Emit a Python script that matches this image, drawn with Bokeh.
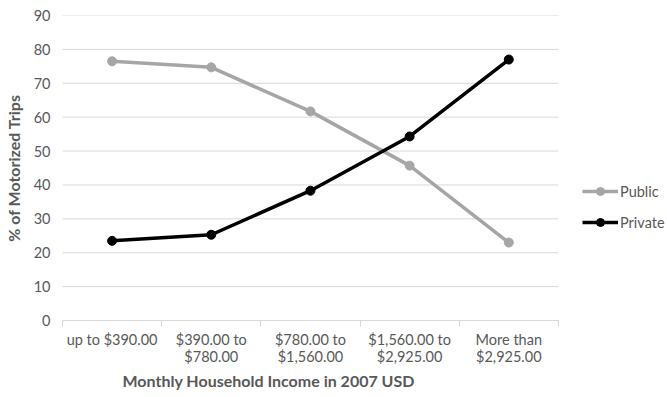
from bokeh.plotting import figure
from bokeh.models import ColumnDataSource, FixedTicker, Legend, LegendItem, Range1d, Title
from bokeh.embed import file_html
from bokeh.resources import INLINE

categories = ["up to $390.00", "$390.00 to\n$780.00", "$780.00 to\n$1,560.00",
              "$1,560.00 to\n$2,925.00", "More than\n$2,925.00"]
public = [76.5, 74.7, 61.7, 45.7, 23.0]
private = [23.5, 25.3, 38.3, 54.3, 77.0]
y_ticks = [0, 10, 20, 30, 40, 50, 60, 70, 80, 90]

xs = list(range(1, len(categories) + 1))
x_lo, x_hi = xs[0] - 0.5, xs[-1] + 0.5
src = ColumnDataSource(dict(x=xs, public=public, private=private))
grid_src = ColumnDataSource(dict(y=y_ticks, x0=[x_lo] * len(y_ticks), x1=[x_hi] * len(y_ticks)))

FONT = "Lato"
GRAY_TXT = "#595959"

# x range extends past the last category to leave room for the legend
p = figure(width=667, height=397, output_backend="svg", toolbar_location=None,
           x_range=Range1d(x_lo, 6.6), y_range=Range1d(0, 90),
           min_border_left=62, min_border_right=0, min_border_top=15, min_border_bottom=77)
p.outline_line_color = None
p.background_fill_color = "white"
p.xgrid.grid_line_color = None
p.ygrid.grid_line_color = None

p.segment(x0="x0", x1="x1", y0="y", y1="y", source=grid_src, line_color="#d9d9d9", line_width=1)

r1 = p.line("x", "public", source=src, line_color="#a6a6a6", line_width=3.5)
m1 = p.scatter("x", "public", source=src, size=9, fill_color="#a6a6a6", line_color="#a6a6a6")
r2 = p.line("x", "private", source=src, line_color="black", line_width=3.5)
m2 = p.scatter("x", "private", source=src, size=9, fill_color="black", line_color="black")

p.xaxis.bounds = (x_lo, x_hi)
p.xaxis.ticker = FixedTicker(ticks=xs, minor_ticks=[x - 0.5 for x in xs] + [x_hi])
p.xaxis.major_label_overrides = {x: c for x, c in zip(xs, categories)}
p.xaxis.major_tick_line_color = None
p.xaxis.minor_tick_line_color = "#d9d9d9"
p.xaxis.minor_tick_in = 0
p.xaxis.minor_tick_out = 6
p.xaxis.axis_line_color = "#d9d9d9"
p.xaxis.major_label_text_font = FONT
p.xaxis.major_label_text_font_size = "14.5px"
p.xaxis.major_label_text_color = GRAY_TXT
p.xaxis.major_label_text_line_height = 1.05
p.xaxis.major_label_standoff = 4

p.add_layout(Title(text="Monthly Household Income in 2007 USD", align="left", offset=60,
                   text_font=FONT, text_font_size="16px", text_font_style="bold",
                   text_color=GRAY_TXT, standoff=0), "below")

p.yaxis.ticker = FixedTicker(ticks=y_ticks)
p.yaxis.axis_line_color = None
p.yaxis.major_tick_line_color = None
p.yaxis.minor_tick_line_color = None
p.yaxis.major_label_text_font = FONT
p.yaxis.major_label_text_font_size = "14.5px"
p.yaxis.major_label_text_color = GRAY_TXT
p.yaxis.major_label_standoff = 6
p.yaxis.axis_label = "% of Motorized Trips"
p.yaxis.axis_label_text_font = FONT
p.yaxis.axis_label_text_font_size = "16px"
p.yaxis.axis_label_text_font_style = "bold"
p.yaxis.axis_label_text_color = GRAY_TXT
p.yaxis.axis_label_standoff = 8

legend = Legend(items=[LegendItem(label="Public", renderers=[r1, m1]),
                       LegendItem(label="Private", renderers=[r2, m2])],
                location=(520, 88), orientation="vertical",
                background_fill_alpha=0, border_line_color=None,
                label_text_font=FONT, label_text_font_size="14.5px",
                label_text_color=GRAY_TXT, glyph_width=36, glyph_height=20,
                spacing=11, padding=4, margin=0, label_standoff=2)
p.add_layout(legend)

open("out.html", "w").write(file_html(p, INLINE))
